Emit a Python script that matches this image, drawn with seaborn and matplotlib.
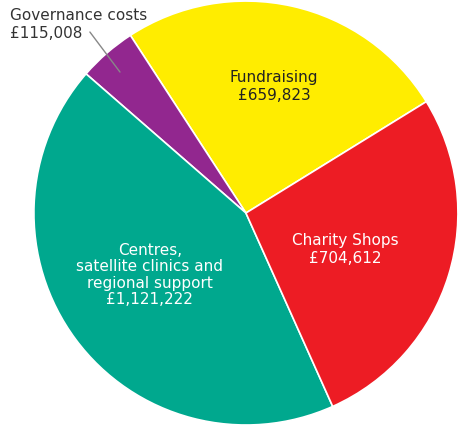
import matplotlib.pyplot as plt
import seaborn as sns

# data (counter-clockwise from the fundraising / charity shops boundary)
labels = ["Fundraising", "Governance costs", "Centres,\nsatellite clinics and\nregional support", "Charity Shops"]
values = [659823, 115008, 1121222, 704612]
value_text = ["£659,823", "£115,008", "£1,121,222", "£704,612"]
colours = ["#FFED00", "#92278F", "#00A88E", "#ED1C24"]

sns.set_theme(style="white")
plt.rcParams['font.family'] = ['DejaVu Sans']

fig = plt.figure(figsize=(4.59, 4.25), dpi=100)
ax = fig.add_axes([0, 0, 1, 1])
ax.set_axis_off()

ax.pie(values, colors=colours, startangle=31.7, counterclock=True,
       radius=1.0, wedgeprops=dict(edgecolor="white", linewidth=1.2))

ax.set_xlim(-1.160, 1.005)
ax.set_ylim(-1.0, 1.005)
ax.set_aspect("auto")

fs = 11
ax.text(0.132, 0.597, f"{labels[0]}\n{value_text[0]}", ha="center", va="center",
        fontsize=fs, color="#222222", linespacing=1.2)
ax.text(0.467, -0.172, f"{labels[3]}\n{value_text[3]}", ha="center", va="center",
        fontsize=fs, color="white", linespacing=1.2)
ax.text(-0.453, -0.292, f"{labels[2]}\n{value_text[2]}", ha="center", va="center",
        fontsize=fs, color="white", linespacing=1.12)
ax.text(-1.113, 0.890, f"{labels[1]}\n{value_text[1]}", ha="left", va="center",
        fontsize=fs, color="#333333", linespacing=1.2)
ax.plot([-0.736, -0.594], [0.854, 0.665], color="#888888", linewidth=1.0)

fig.savefig("out.png", dpi=100)
